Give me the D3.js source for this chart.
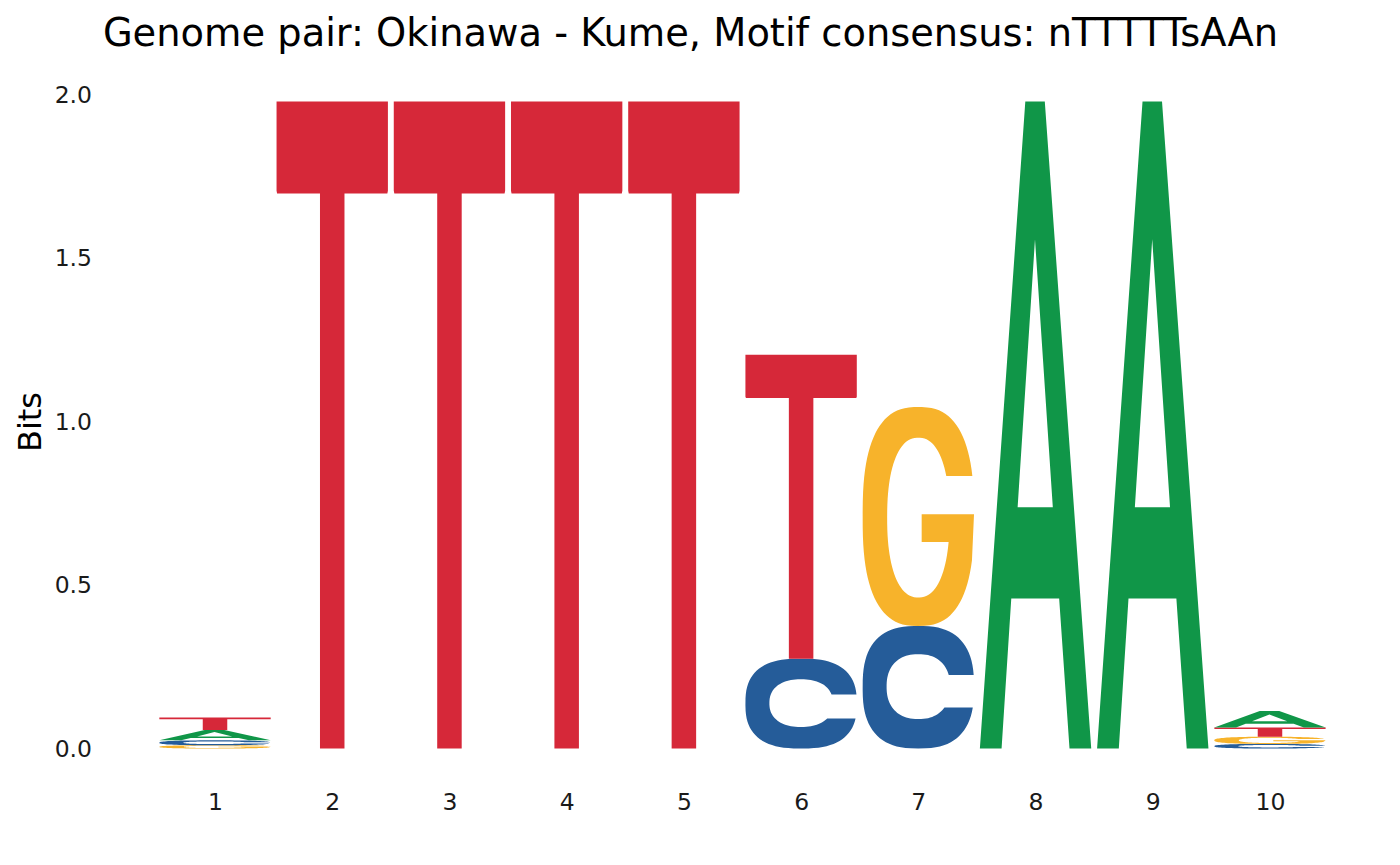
<!DOCTYPE html>
<html>
<head>
<meta charset="utf-8">
<script src="https://cdn.jsdelivr.net/npm/d3@7"></script>
<style>
  body { margin: 0; background: #fff; }
  text { font-family: "DejaVu Sans", sans-serif; }
</style>
</head>
<body>
<div class="vis-logo"></div>
<script>
// data: bits per letter at each motif position, stacked bottom -> top
const positions = [1, 2, 3, 4, 5, 6, 7, 8, 9, 10];
const stackOrder = [
  ['G', 'C', 'A', 'T'],
  ['T'], ['T'], ['T'], ['T'],
  ['C', 'T'],
  ['C', 'G'],
  ['A'], ['A'],
  ['C', 'G', 'T', 'A']
];
const stackBits = [
  [0.01, 0.015, 0.032, 0.038],
  [1.98], [1.98], [1.98], [1.98],
  [0.275, 0.93],
  [0.375, 0.67],
  [1.98], [1.98],
  [0.014, 0.022, 0.028, 0.051]
];
const yTicks = [0, 0.5, 1, 1.5, 2];
const titleText = 'Genome pair: Okinawa - Kume, Motif consensus: nTTTTTsAAn';

const colors = {A: '#109648', C: '#255C99', G: '#F7B32B', T: '#D62839'};

// ---- glyph outlines in a unit box (y up) ----
const spow = (v, e) => Math.sign(v) * Math.pow(Math.abs(v), e);
function superArc(cx, cy, rx, ry, n, t0, t1, steps) {
  const pts = [];
  for (let i = 0; i <= steps; i++) {
    const t = t0 + (t1 - t0) * i / steps;
    pts.push([cx + rx * spow(Math.cos(t), 2 / n), cy + ry * spow(Math.sin(t), 2 / n)]);
  }
  return pts;
}
// angle on superellipse where y hits a value (right side)
function angleAt(y, cy, ry, n) {
  const s = spow((y - cy) / ry, n / 2);
  return Math.asin(Math.max(-1, Math.min(1, s)));
}

const glyphs = {};
glyphs.T = [[0, 1], [1, 1], [1, 0.862], [0.995, 0.858], [0.61, 0.858], [0.61, 0], [0.39, 0],
            [0.39, 0.858], [0.005, 0.858], [0, 0.862]];
glyphs.A = [[0, 0], [0.195, 0], [0.282, 0.232], [0.712, 0.232], [0.805, 0], [1, 0],
            [0.583, 1], [0.408, 1]];
glyphs.Ahole = [[0.339, 0.373], [0.655, 0.373], [0.495, 0.787]];
(function () {
  const n = 2.6, ni = 2.3;
  // C
  const cTop = 0.6, cBot = 0.335;
  const a0 = angleAt(cTop, 0.5, 0.5, n), a1 = angleAt(cBot, 0.5, 0.5, n);
  const outer = superArc(0.5, 0.5, 0.5, 0.5, n, a0, 2 * Math.PI + a1, 80);
  const b0 = angleAt(cBot, 0.505, 0.265, ni), b1 = angleAt(cTop, 0.505, 0.265, ni);
  const inner = superArc(0.5, 0.505, 0.285, 0.265, ni, b0, b1 - 2 * Math.PI, 80);
  glyphs.C = outer.concat(inner);
  // G
  const gTop = 0.685, gBar = 0.51, gBarLow = 0.384;
  const g0 = angleAt(gTop, 0.5, 0.5, n), g1 = angleAt(0.3, 0.5, 0.5, n);
  const gOuter = superArc(0.5, 0.5, 0.5, 0.5, n, g0, 2 * Math.PI + g1, 90);
  const h0 = angleAt(gBarLow, 0.495, 0.365, ni), h1 = angleAt(gTop, 0.495, 0.365, ni);
  const gInner = superArc(0.5, 0.495, 0.28, 0.365, ni, h0, h1 - 2 * Math.PI, 90);
  glyphs.G = gOuter.concat([[1, gBar], [0.53, gBar], [0.53, gBarLow]], gInner);
})();

const margin = {left: 156.4, right: 71.4};
const W = 1400, H = 865;

const svg = d3.select('.vis-logo').append('svg')
  .attr('width', W)
  .attr('height', H);

const xScale = d3.scaleLinear()
  .domain([0.5, 10.5])
  .range([margin.left, W - margin.right]);
const yScale = d3.scaleLinear()
  .domain([0, 2])
  .range([748.5, 95]);

// letters
const letterWidth = 0.95;
const letterData = [];
positions.forEach((p, i) => {
  let base = 0;
  stackOrder[i].forEach((l, j) => {
    const h = stackBits[i][j];
    letterData.push({pos: p, letter: l, y0: base, y1: base + h});
    base += h;
  });
});

function toPath(pts, d) {
  const x0 = xScale(d.pos - letterWidth / 2), x1 = xScale(d.pos + letterWidth / 2);
  const yb = yScale(d.y0), yt = yScale(d.y1);
  return 'M' + pts.map(p => [x0 + p[0] * (x1 - x0), yb + p[1] * (yt - yb)].join(',')).join('L') + 'Z';
}

svg.append('g').selectAll('path')
  .data(letterData)
  .enter()
  .append('path')
    .attr('d', d => {
      let s = toPath(glyphs[d.letter], d);
      if (d.letter === 'A') s += toPath(glyphs.Ahole, d);
      return s;
    })
    .attr('fill-rule', 'evenodd')
    .attr('fill', d => colors[d.letter]);

// y axis (labels only)
const gY = svg.append('g').attr('transform', 'translate(96,0)');
gY.call(d3.axisLeft(yScale).tickValues(yTicks).tickFormat(d3.format('.1f')).tickSize(0).tickPadding(4));
gY.select('.domain').remove();
gY.selectAll('text').attr('font-size', 23.5).attr('font-family', '"DejaVu Sans", sans-serif').attr('fill', '#1a1a1a');

// x axis (labels only)
const gX = svg.append('g').attr('transform', 'translate(0,789)');
gX.call(d3.axisBottom(xScale).tickValues(positions).tickFormat(d3.format('d')).tickSize(0).tickPadding(4));
gX.select('.domain').remove();
gX.selectAll('text').attr('font-size', 23.5).attr('font-family', '"DejaVu Sans", sans-serif').attr('fill', '#1a1a1a');

// axis title
svg.append('text')
  .attr('transform', 'translate(41,422) rotate(-90)')
  .attr('text-anchor', 'middle')
  .attr('font-size', 32)
  .text('Bits');

// title
svg.append('text')
  .attr('x', 690.5)
  .attr('y', 46)
  .attr('text-anchor', 'middle')
  .attr('font-size', 38.4)
  .text(titleText);
</script>
</body>
</html>
